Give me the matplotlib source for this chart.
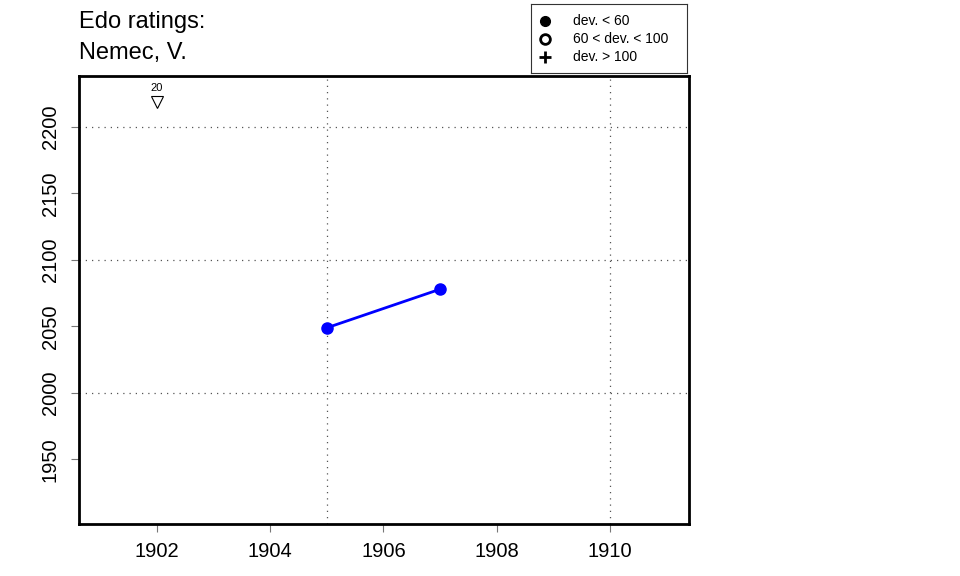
import matplotlib
matplotlib.use("Agg")
import matplotlib.pyplot as plt

plt.rcParams['font.family'] = ['Liberation Sans', 'DejaVu Sans']

# rating history
years = [1905, 1907]
ratings = [2049, 2078]

# off-scale marker (count of games shown above triangle)
off_year = 1902
off_rating = 2219
off_label = "20"

x_ticks = [1902, 1904, 1906, 1908, 1910]
y_ticks = [1950, 2000, 2050, 2100, 2150, 2200]
grid_x = [1905, 1910]
grid_y = [2000, 2100, 2200]

legend_labels = ["dev. < 60", "60 < dev. < 100", "dev. > 100"]
legend_markers = ["o", "o", "+"]
legend_fill = ["black", "none", "black"]

W, H = 960, 576
fig = plt.figure(figsize=(W / 100, H / 100), dpi=100)
ax = fig.add_axes([79 / W, 1 - 524 / H, 610 / W, 448 / H])

ax.set_xlim(1900.62, 1911.4)
ax.set_ylim(1901.5, 2238.3)

for gx in grid_x:
    ax.axvline(gx, color='#555555', linestyle=(0, (1, 4)), lw=0.9, zorder=1)
for gy in grid_y:
    ax.axhline(gy, color='#555555', linestyle=(0, (1, 4)), lw=0.9, zorder=1)

ax.plot(years, ratings, color='blue', lw=2, marker='o', ms=8, zorder=3)

ax.plot([off_year], [off_rating], marker='v', ms=8, mfc='white', mec='black',
        mew=0.8, linestyle='none', zorder=3)
ax.annotate(off_label, (off_year, off_rating), xytext=(0, 6), textcoords='offset points',
            ha='center', va='bottom', fontsize=8)

ax.set_xticks(x_ticks)
ax.set_yticks(y_ticks)
ax.tick_params(direction='out', length=6, width=0.8, color='#777777',
               labelsize=14.5)
ax.tick_params(axis='x', pad=7)
ax.tick_params(axis='y', labelrotation=90, pad=8)
for lab in ax.get_yticklabels():
    lab.set_va('center')
for s in ax.spines.values():
    s.set_linewidth(2)

fig.text(79 / W, 1 - 22 / H, "Edo ratings:", fontsize=17, ha='left', va='center')
fig.text(79 / W, 1 - 53 / H, "Nemec, V.", fontsize=17, ha='left', va='center')

# legend box
lg = fig.add_axes([531 / W, 1 - 73 / H, 156 / W, 69 / H])
lg.set_xlim(0, 156)
lg.set_ylim(69, 0)
lg.set_xticks([])
lg.set_yticks([])
for s in lg.spines.values():
    s.set_linewidth(0.8)
    s.set_color('#333333')
for i, (lab, m, fc) in enumerate(zip(legend_labels, legend_markers, legend_fill)):
    yy = 17 + i * 18
    lg.plot([14], [yy], marker=m, ms=8 if m == '+' else 7, mfc=fc, mec='black',
            mew=2 if m != 'o' or fc == 'none' else 1, linestyle='none')
    lg.text(42, yy, lab, fontsize=10, ha='left', va='center')

fig.savefig("out.png", dpi=100)
